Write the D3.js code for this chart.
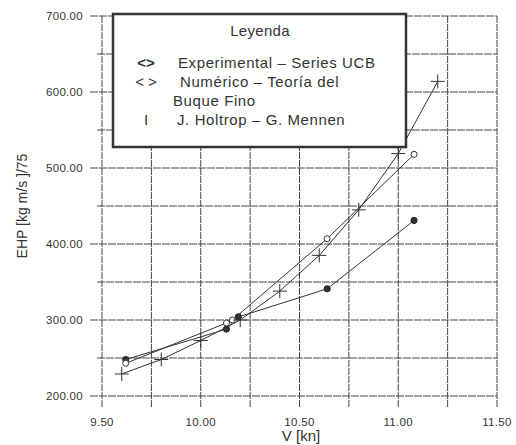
<!DOCTYPE html>
<html><head><meta charset="utf-8">
<script src="https://cdn.jsdelivr.net/npm/d3@7"></script>
<style>body{margin:0;background:#fff}svg{display:block}text{font-family:"Liberation Sans",Arial,sans-serif;fill:#333}</style>
</head><body><svg id="c" width="516" height="445"></svg>
<script>
const expV = [9.62, 10.13, 10.19, 10.64, 11.08];
const expEHP = [248, 288, 304, 341, 431];
const numV = [9.62, 10.13, 10.16, 10.64, 11.08];
const numEHP = [243, 296, 300, 407, 518];
const holV = [9.6, 9.8, 10.0, 10.2, 10.4, 10.6, 10.8, 11.0, 11.2];
const holEHP = [229, 248, 273, 300, 338, 385, 445, 519, 614];
const xTicks = [9.5, 10.0, 10.5, 11.0, 11.5];
const yTicks = [200, 300, 400, 500, 600, 700];
const xGrid = [9.5, 9.75, 10.0, 10.25, 10.5, 10.75, 11.0, 11.25, 11.5];
const yGrid = [200, 250, 300, 350, 400, 450, 500, 550, 600, 650, 700];
const legendRows = ["Experimental – Series UCB", "Numérico – Teoría del", "Buque Fino", "J. Holtrop – G. Mennen"];
const legendSyms = ["<>", "< >", "", "I"];

const svg = d3.select("#c");
const x = d3.scaleLinear().domain([9.5, 11.5]).range([102, 497]);
const y = d3.scaleLinear().domain([200, 700]).range([396, 16]);

const g = svg.append("g");
g.selectAll(".vg").data(xGrid).join("line")
  .attr("x1", d => x(d)).attr("x2", d => x(d))
  .attr("y1", y(700)).attr("y2", y(200) + 12)
  .attr("stroke", "#444").attr("stroke-width", 1).attr("stroke-dasharray", "7,1");
g.selectAll(".hg").data(yGrid).join("line")
  .attr("x1", d => yTicks.includes(d) ? 90 : 97).attr("x2", x(11.5))
  .attr("y1", d => y(d)).attr("y2", d => y(d))
  .attr("stroke", "#444").attr("stroke-width", 1).attr("stroke-dasharray", "8,1");

g.selectAll(".yt").data(yTicks).join("text")
  .attr("x", 83).attr("y", d => y(d) + 4).attr("text-anchor", "end")
  .attr("font-size", 11.5).attr("letter-spacing", 0.3).text(d => d3.format(".2f")(d));
g.selectAll(".xt").data(xTicks).join("text")
  .attr("x", d => x(d)).attr("y", 426).attr("text-anchor", "middle")
  .attr("font-size", 11.5).attr("letter-spacing", 0.3).text(d => d3.format(".2f")(d));

svg.append("text").attr("transform", "translate(27,206) rotate(-90)")
  .attr("text-anchor", "middle").attr("font-size", 14).text("EHP [kg m/s ]/75");
svg.append("text").attr("x", 301).attr("y", 441).attr("text-anchor", "middle")
  .attr("font-size", 15).text("V [kn]");

const line = d3.line().x(d => x(d[0])).y(d => y(d[1]));
const series = [
  {v: expV, e: expEHP, type: "hex"},
  {v: numV, e: numEHP, type: "circle"},
  {v: holV, e: holEHP, type: "plus"}
];
series.forEach(s => {
  const pts = s.v.map((v, i) => [v, s.e[i]]);
  g.append("path").datum(pts).attr("d", line).attr("fill", "none")
    .attr("stroke", "#333").attr("stroke-width", 1);
  if (s.type === "hex") {
    g.selectAll(null).data(pts).join("path")
      .attr("transform", d => `translate(${x(d[0])},${y(d[1])})`)
      .attr("d", d3.symbol(d3.symbolCircle, 30)).attr("fill", "#333").attr("stroke", "#222");
  } else if (s.type === "circle") {
    g.selectAll(null).data(pts).join("circle")
      .attr("cx", d => x(d[0])).attr("cy", d => y(d[1])).attr("r", 3)
      .attr("fill", "#fff").attr("stroke", "#333").attr("stroke-width", 1);
  } else {
    g.selectAll(null).data(pts).join("path")
      .attr("transform", d => `translate(${x(d[0])},${y(d[1])})`)
      .attr("d", "M-7,0H7M0,-7V7").attr("stroke", "#333").attr("stroke-width", 1);
  }
});

const lg = svg.append("g");
lg.append("rect").attr("x", 113).attr("y", 14).attr("width", 293).attr("height", 133)
  .attr("fill", "#fff").attr("stroke", "#333").attr("stroke-width", 2.5);
lg.append("text").attr("x", 260).attr("y", 36).attr("text-anchor", "middle")
  .attr("font-size", 15).attr("letter-spacing", 0.3).text("Leyenda");
const rowY = [68, 87, 106, 125];
const rowX = [178, 180, 173, 177];
lg.selectAll(".lt").data(legendRows).join("text")
  .attr("x", (d, i) => rowX[i]).attr("y", (d, i) => rowY[i]).attr("font-size", 15)
  .attr("letter-spacing", 0.6).text(d => d);
lg.selectAll(".ls").data(legendSyms).join("text")
  .attr("x", 146).attr("y", (d, i) => rowY[i]).attr("text-anchor", "middle")
  .attr("font-size", 15).attr("font-weight", (d, i) => i === 0 ? "bold" : "normal").text(d => d);
</script></body></html>
